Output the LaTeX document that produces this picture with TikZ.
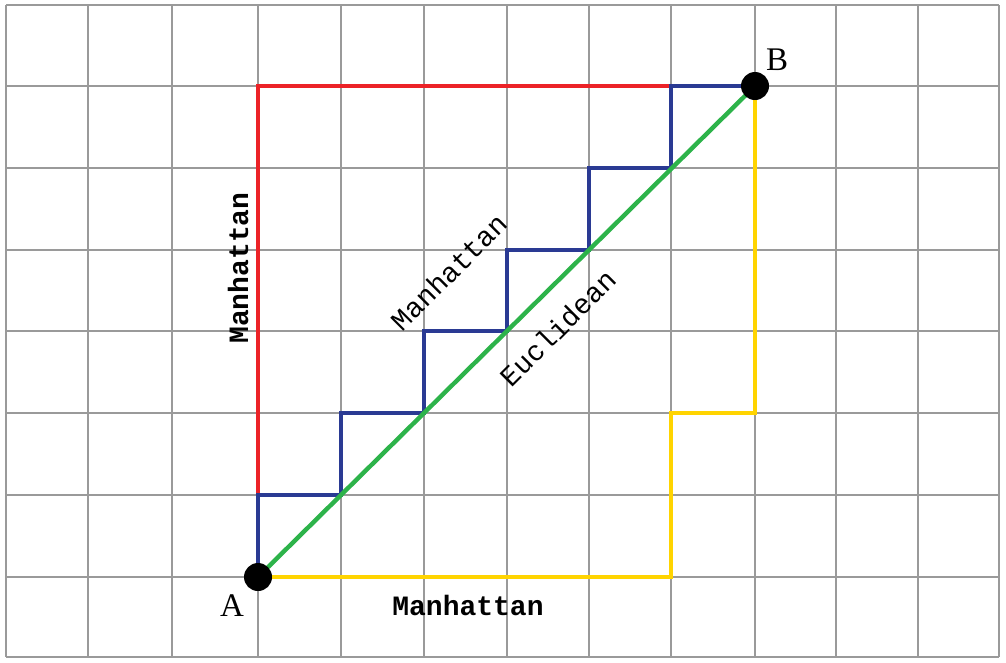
\documentclass[tikz,border=0pt]{standalone}
\usepackage{fontspec}
\newfontfamily\labfont{Liberation Mono}
\newfontfamily\ptfont{Liberation Serif}
\definecolor{gridgray}{HTML}{9A9A9A}
\definecolor{pathred}{HTML}{EC2227}
\definecolor{pathblue}{HTML}{2A3A93}
\definecolor{pathgreen}{HTML}{2DB34A}
\definecolor{pathyellow}{HTML}{FFD400}
\tikzset{
  gridline/.style={draw=gridgray, line width=2.8pt},
  route/.style={line width=4.4pt, line cap=butt, line join=miter},
  dot/.style={circle, fill=black, minimum size=28pt, inner sep=0pt},
  lbl/.style={font=\labfont\fontsize{28}{30}\selectfont, inner sep=0pt},
  blbl/.style={font=\labfont\bfseries\fontsize{28}{30}\selectfont, inner sep=0pt},
  ptlbl/.style={font=\ptfont\fontsize{33}{35}\selectfont, inner sep=0pt},
}
\begin{document}
\begin{tikzpicture}[x=1pt, y=-1pt]
\useasboundingbox (0,0) rectangle (1006,662);
% grid
\foreach \x in {6,88,172,258,341,424,507,589,671,755,836,918,999}
  \draw[gridline] (\x,5) -- (\x,657);
\foreach \y in {5,86,168,250,331,413,495,577,657}
  \draw[gridline] (6,\y) -- (999,\y);
% points
\coordinate (a) at (258,577);
\coordinate (b) at (755,86);
\coordinate (r1) at (258,86);
% red
\draw[route, pathred] (258,495) -- (r1) -- (b);
% yellow
\coordinate (y1) at (671,577);
\coordinate (y2) at (671,413);
\coordinate (y3) at (755,413);
\draw[route, pathyellow] (a) -- (y1) -- (y2) -- (y3) -- (b);
% blue staircase
\draw[route, pathblue] (a) -- (258,495) -- (341,495) -- (341,413) -- (424,413)
  -- (424,331) -- (507,331) -- (507,250) -- (589,250) -- (589,168)
  -- (671,168) -- (671,86) -- (b);
% green
\draw[route, pathgreen] (a) -- (b);
% dots
\node[dot] (A) at (a) {};
\node[dot] (B) at (b) {};
% labels
\node[ptlbl] (la) at (232,606) {A};
\node[ptlbl] (lb) at (777,60) {B};
\node[blbl, rotate=90] (m1) at (238,268) {Manhattan};
\node[blbl] (m2) at (468,605) {Manhattan};
\node[lbl, rotate=45] (m3) at (449,272) {Manhattan};
\node[lbl, rotate=45] (e1) at (558,328) {Euclidean};
\end{tikzpicture}
\end{document}
